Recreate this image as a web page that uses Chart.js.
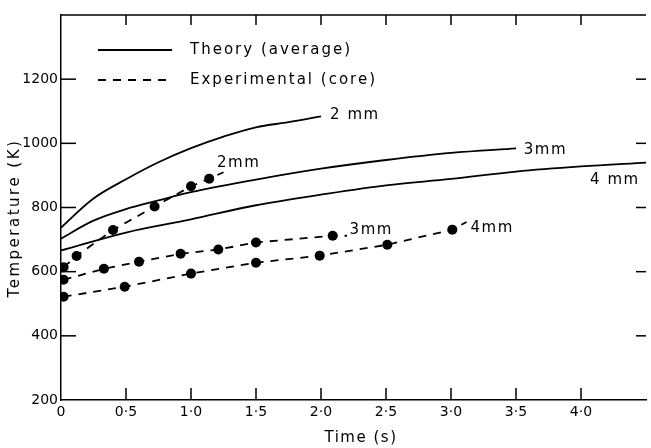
<!DOCTYPE html>
<html>
<head>
<meta charset="utf-8">
<script src="https://cdn.jsdelivr.net/npm/chart.js@4"></script>
<style>
  html, body { margin: 0; padding: 0; background: #fff; }
</style>
</head>
<body>
<canvas id="chart" width="651" height="448"></canvas>
<script>
// Theory (average) curves, time in s / temperature in K
const theoryTime2 = [0, 0.25, 0.5, 0.75, 1.0, 1.25, 1.5, 1.75, 2.0];
const theoryTemp2 = [737, 828, 888, 941, 985, 1021, 1050, 1066, 1084];
const theoryTime3 = [0, 0.25, 0.5, 0.75, 1.0, 1.5, 2.0, 2.5, 3.0, 3.5];
const theoryTemp3 = [703, 759, 795, 822, 848, 887, 921, 948, 970, 984];
const theoryTime4 = [0, 0.5, 1.0, 1.5, 2.0, 2.5, 3.0, 3.5, 4.0, 4.5];
const theoryTemp4 = [666, 722, 763, 807, 840, 869, 889, 912, 928, 940];

// Experimental (core) points; last entry of each is the leader end (no marker)
const expTime2 = [0.02, 0.12, 0.40, 0.72, 1.0, 1.14, 1.25];
const expTemp2 = [614, 649, 730, 803, 866, 890, 910];
const expTime3 = [0.02, 0.33, 0.60, 0.92, 1.21, 1.5, 2.09, 2.2];
const expTemp3 = [575, 609, 631, 656, 669, 691, 712, 712];
const expTime4 = [0.02, 0.49, 1.0, 1.5, 1.99, 2.51, 3.01, 3.12];
const expTemp4 = [522, 553, 594, 628, 650, 684, 731, 755];

const xTicks = [0, 0.5, 1, 1.5, 2, 2.5, 3, 3.5, 4, 4.5];
const yTicks = [200, 400, 600, 800, 1000, 1200, 1400];

const FONT = '"DejaVu Sans", sans-serif';

function pts(xs, ys) { return xs.map((x, i) => ({ x: x, y: ys[i] })); }

function theory(xs, ys) {
  return { data: pts(xs, ys), borderColor: '#000', borderWidth: 1.8, pointRadius: 0,
           tension: 0.35, fill: false };
}
function experiment(xs, ys) {
  const r = xs.map((x, i) => i === xs.length - 1 ? 0 : 5);
  return { data: pts(xs, ys), borderColor: '#000', borderWidth: 1.8, borderDash: [8, 7],
           pointRadius: r, pointBackgroundColor: '#000', pointBorderWidth: 0, tension: 0, fill: false };
}

// top frame and inward tick marks on all four sides
const frame = {
  id: 'frame',
  afterDatasetsDraw(chart) {
    const ctx = chart.ctx;
    const a = chart.chartArea;
    const x = chart.scales.x, y = chart.scales.y;
    ctx.save();
    ctx.fillStyle = '#000';
    ctx.fillRect(a.left, a.top - 0.75, a.right - a.left, 1.5);
    xTicks.slice(1, -1).forEach(v => {
      const px = x.getPixelForValue(v);
      ctx.fillRect(px - 0.75, a.bottom - 12, 1.5, 12);
      ctx.fillRect(px - 0.75, a.top, 1.5, 10);
    });
    yTicks.slice(1, -1).forEach(v => {
      const py = y.getPixelForValue(v);
      ctx.fillRect(a.left, py - 0.75, 15, 1.5);
      ctx.fillRect(a.right - 10, py - 0.75, 10, 1.5);
    });
    ctx.restore();
  }
};

// legend, curve labels, axis titles
const decorations = {
  id: 'decorations',
  afterDraw(chart) {
    const ctx = chart.ctx;
    const a = chart.chartArea;
    const x = chart.scales.x, y = chart.scales.y;
    ctx.save();
    ctx.strokeStyle = '#000';
    ctx.fillStyle = '#000';
    ctx.lineWidth = 1.8;
    ctx.setLineDash([]);
    ctx.beginPath();
    ctx.moveTo(a.left + 37, a.top + 35); ctx.lineTo(a.left + 111, a.top + 35);
    ctx.stroke();
    ctx.setLineDash([8, 7]);
    ctx.beginPath();
    ctx.moveTo(a.left + 37, a.top + 65); ctx.lineTo(a.left + 111, a.top + 65);
    ctx.stroke();
    ctx.setLineDash([]);

    ctx.textBaseline = 'middle';
    ctx.textAlign = 'left';
    ctx.font = '15px ' + FONT;
    ctx.letterSpacing = '2px';
    ctx.fillText('Theory (average)', a.left + 129, a.top + 35);
    ctx.fillText('Experimental (core)', a.left + 129, a.top + 65);

    // curve labels anchored in data units
    ctx.letterSpacing = '1.5px';
    [['2 mm', 2.07, 1087], ['3mm', 3.56, 978], ['4 mm', 4.07, 884],
     ['2mm', 1.20, 937], ['3mm', 2.22, 731], ['4mm', 3.15, 737]].forEach(l => {
      ctx.fillText(l[0], x.getPixelForValue(l[1]), y.getPixelForValue(l[2]));
    });

    // axis titles
    ctx.textAlign = 'center';
    ctx.fillText('Time (s)', 361, 438);
    ctx.translate(15, 218);
    ctx.rotate(-Math.PI / 2);
    ctx.letterSpacing = '2.5px';
    ctx.fillText('Temperature (K)', 0, 0);
    ctx.restore();
  }
};

new Chart(document.getElementById('chart'), {
  type: 'line',
  data: {
    datasets: [
      theory(theoryTime2, theoryTemp2),
      theory(theoryTime3, theoryTemp3),
      theory(theoryTime4, theoryTemp4),
      experiment(expTime2, expTemp2),
      experiment(expTime3, expTemp3),
      experiment(expTime4, expTemp4),
    ]
  },
  options: {
    responsive: false,
    animation: false,
    devicePixelRatio: 1,
    layout: { padding: { top: 15, right: 0, left: 0, bottom: 0 } },
    plugins: { legend: { display: false }, tooltip: { enabled: false } },
    scales: {
      x: {
        type: 'linear', min: 0, max: 4.5,
        grid: { display: false, drawTicks: false },
        border: { display: true, color: '#000', width: 1.5 },
        ticks: {
          stepSize: 0.5, padding: 4, color: '#000', font: { family: FONT, size: 14 },
          maxRotation: 0, autoSkip: false,
          callback: v => v >= 4.5 ? '' : (v === 0 ? '0' : v.toFixed(1).replace('.', '\u00b7'))
        },
        afterFit: s => { s.height = 48; }
      },
      y: {
        min: 200, max: 1400,
        grid: { display: false, drawTicks: false },
        border: { display: true, color: '#000', width: 1.5 },
        ticks: {
          stepSize: 200, padding: 3, color: '#000', font: { family: FONT, size: 14 },
          autoSkip: false,
          callback: v => v >= 1400 ? '' : String(v)
        },
        afterFit: s => { s.width = 61; }
      }
    }
  },
  plugins: [frame, decorations]
});
</script>
</body>
</html>
